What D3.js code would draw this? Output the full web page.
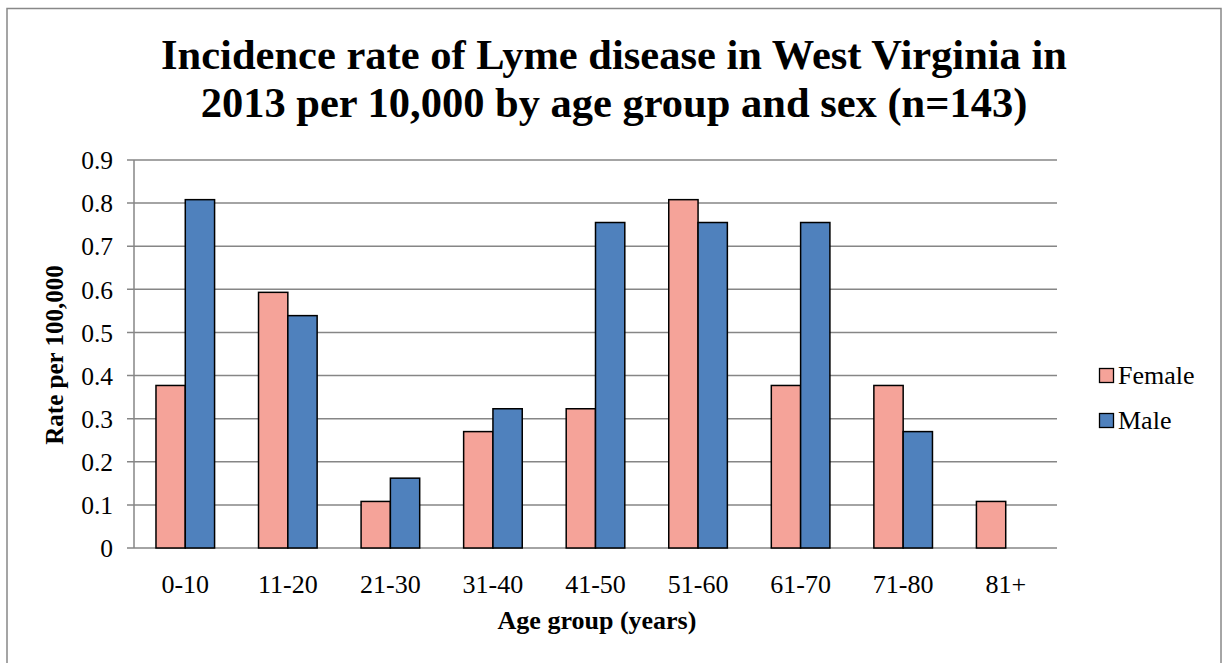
<!DOCTYPE html>
<html><head><meta charset="utf-8">
<script src="https://cdn.jsdelivr.net/npm/d3@7"></script>
<style>body{margin:0;background:#fff}svg{display:block}text{font-family:"Liberation Serif","Times New Roman",serif}</style>
</head><body>
<svg id="c" width="1225" height="663"></svg>
<script>
const categories = ["0-10","11-20","21-30","31-40","41-50","51-60","61-70","71-80","81+"];
const seriesNames = ["Female","Male"];
const female = [0.377,0.593,0.108,0.270,0.323,0.808,0.377,0.377,0.108];
const male = [0.808,0.539,0.162,0.323,0.755,0.755,0.755,0.270,0];
const yTicks = [0,0.1,0.2,0.3,0.4,0.5,0.6,0.7,0.8,0.9];
const colors = ["#F5A399","#4F81BD"];

const svg = d3.select("#c");
svg.append("rect").attr("x",7).attr("y",8.5).attr("width",1214).attr("height",670)
  .attr("fill","none").attr("stroke","#888").attr("stroke-width",1.5);

const L=134,R=1057,T=160,B=548;
const x = d3.scaleBand().domain(categories).range([L,R]).paddingInner(0.4286).paddingOuter(0.2143);
const y = d3.scaleLinear().domain([0,0.9]).range([B,T]);

svg.append("g").selectAll("line").data(yTicks).join("line")
  .attr("x1",L-7).attr("x2",R).attr("y1",d=>y(d)).attr("y2",d=>y(d))
  .attr("stroke","#868686").attr("stroke-width",1.5);
svg.append("line").attr("x1",L).attr("x2",L).attr("y1",T).attr("y2",B)
  .attr("stroke","#868686").attr("stroke-width",1.5);

const yAxis = d3.axisLeft(y).tickValues(yTicks).tickSize(0).tickPadding(0)
  .tickFormat(d=>d===0?"0":d3.format(".1f")(d));
const ga = svg.append("g").attr("transform",`translate(${L-21},0)`).call(yAxis);
ga.select(".domain").remove();
ga.attr("font-size",null).attr("font-family",null);
ga.selectAll("text").attr("font-size",25.5).attr("fill","#000").attr("dy","0.34em")
  .style("font-family","'Liberation Serif',serif");

const data = categories.map((c,i)=>({c,vals:[female[i],male[i]]}));
const x1 = d3.scaleBand().domain(seriesNames).range([0,x.bandwidth()]);
const g = svg.append("g");
data.forEach(d=>{
  d.vals.forEach((v,j)=>{
    if(v<=0) return;
    g.append("rect").attr("x",x(d.c)+x1(seriesNames[j])).attr("y",y(v))
      .attr("width",x1.bandwidth()).attr("height",y(0)-y(v))
      .attr("fill",colors[j]).attr("stroke","#000").attr("stroke-width",1.5);
  });
});

const xAxis = d3.axisBottom(x).tickSize(0).tickPadding(0);
const gx = svg.append("g").attr("transform",`translate(0,${B})`).call(xAxis);
gx.select(".domain").remove();
gx.attr("font-size",null).attr("font-family",null);
gx.selectAll("text").attr("font-size",26).attr("fill","#000").attr("y",45).attr("dy","0")
  .style("font-family","'Liberation Serif',serif");

const title = svg.append("text").attr("text-anchor","middle").attr("font-weight","bold")
  .attr("font-size",42.5).attr("fill","#000");
title.append("tspan").attr("x",614).attr("y",69).text("Incidence rate of Lyme disease in West Virginia in");
title.append("tspan").attr("x",614).attr("y",117).text("2013 per 10,000 by age group and sex (n=143)");

svg.append("text").attr("x",597).attr("y",629).attr("text-anchor","middle")
  .attr("font-weight","bold").attr("font-size",26).text("Age group (years)");
svg.append("text").attr("transform","translate(63,355) rotate(-90)").attr("text-anchor","middle")
  .attr("font-weight","bold").attr("font-size",25).text("Rate per 100,000");

const lg = svg.append("g");
seriesNames.forEach((n,i)=>{
  const yy = 375.5 + i*45;
  lg.append("rect").attr("x",1099.5).attr("y",yy-7).attr("width",14).attr("height",14)
    .attr("fill",colors[i]).attr("stroke","#000").attr("stroke-width",1.3);
  lg.append("text").attr("x",1118).attr("y",yy).attr("dy","0.34em").attr("font-size",26).text(n);
});
</script>
</body></html>
